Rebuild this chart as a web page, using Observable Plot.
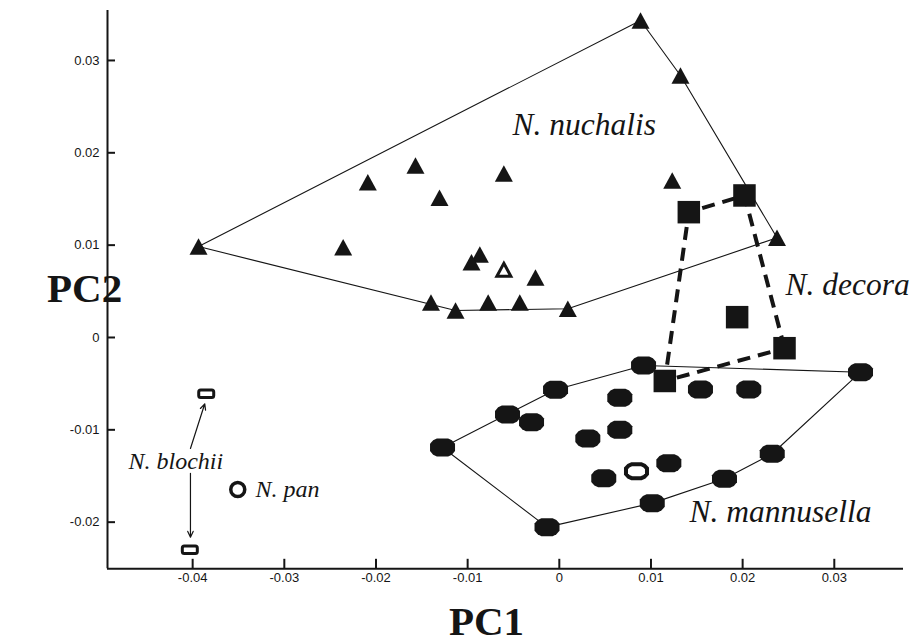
<!DOCTYPE html>
<html><head><meta charset="utf-8">
<script src="https://cdn.jsdelivr.net/npm/d3@7"></script>
<script src="https://cdn.jsdelivr.net/npm/@observablehq/plot@0.6"></script>
<style>body{margin:0;background:#fff;}</style>
</head><body><div id="chart"></div>
<script>
// ---- data (PC1, PC2) ----
const nuchalisX = [-0.03936, 0.00886, 0.01322, 0.02375, 0.00093, -0.01132, -0.0140, -0.02089, -0.01569, -0.01307, -0.00605, -0.02358, -0.00867, -0.00958, -0.0026, -0.00776, -0.00431, 0.01232];
const nuchalisY = [0.00985, 0.03433, 0.02837, 0.01080, 0.00311, 0.00292, 0.00379, 0.01682, 0.01863, 0.01513, 0.01776, 0.00978, 0.00899, 0.00815, 0.0065, 0.00379, 0.00379, 0.0170];
const nuchalisOpenX = [-0.00605];
const nuchalisOpenY = [0.00733];

const decoraX = [0.01413, 0.0202, 0.0194, 0.02457, 0.01151];
const decoraY = [0.01357, 0.01538, 0.0022, -0.00116, -0.00471];

const mannusellaX = [-0.01274, -0.00565, -0.00041, 0.00919, 0.03286, 0.02323, 0.01802, 0.01014, -0.00134, -0.00303, 0.0066, 0.0066, 0.00311, 0.00485, 0.01195, 0.0154, 0.02067];
const mannusellaY = [-0.01191, -0.00834, -0.00565, -0.00303, -0.00376, -0.01259, -0.0153, -0.01794, -0.02054, -0.00917, -0.00653, -0.0100, -0.01094, -0.01525, -0.01361, -0.00563, -0.00563];
const mannusellaOpenX = [0.00842];
const mannusellaOpenY = [-0.01448];

const blochiiX = [-0.03852, -0.04031];
const blochiiY = [-0.0061, -0.0230];
const panX = [-0.03508];
const panY = [-0.01646];

// species labels (left edge, baseline)
const bigLabels = ["N. nuchalis", "N. decora", "N. mannusella"];
const bigLabelX = [-0.0051, 0.02468, 0.01421];
const bigLabelY = [0.02188, 0.00455, -0.0200];
const smallLabels = ["N. blochii", "N. pan"];
const smallLabelX = [-0.0470, -0.03314];
const smallLabelY = [-0.01422, -0.0173];

// arrows from "N. blochii" to its two specimens
const arrowX1 = [-0.04024, -0.04024];
const arrowY1 = [-0.01202, -0.0147];
const arrowX2 = [-0.03868, -0.04024];
const arrowY2 = [-0.00718, -0.02163];

// axes
const xDomain = [-0.04929, 0.03755];
const yDomain = [-0.02505, 0.03541];
const xTicks = [-0.04, -0.03, -0.02, -0.01, 0, 0.01, 0.02, 0.03];
const yTicks = [-0.02, -0.01, 0, 0.01, 0.02, 0.03];
const xTitle = "PC1";
const yTitle = "PC2";

// ---- build tables ----
const pts = (X, Y) => X.map((x, i) => ({x, y: Y[i]}));
const nuchalis = pts(nuchalisX, nuchalisY);
const nuchalisOpen = pts(nuchalisOpenX, nuchalisOpenY);
const decora = pts(decoraX, decoraY);
const mannusella = pts(mannusellaX, mannusellaY);
const mannusellaOpen = pts(mannusellaOpenX, mannusellaOpenY);
const blochii = pts(blochiiX, blochiiY);
const pan = pts(panX, panY);
const bigLab = bigLabels.map((t, i) => ({t, x: bigLabelX[i], y: bigLabelY[i]}));
const smallLab = smallLabels.map((t, i) => ({t, x: smallLabelX[i], y: smallLabelY[i]}));
const arrows = arrowX1.map((x1, i) => ({x1, y1: arrowY1[i], x2: arrowX2[i], y2: arrowY2[i]}));

// ---- custom symbols ----
const tri = (b, h) => ({draw(c) { c.moveTo(0, -h / 2); c.lineTo(b / 2, h / 2); c.lineTo(-b / 2, h / 2); c.closePath(); }});
const sq = (s) => ({draw(c) { c.rect(-s / 2, -s / 2, s, s); }});
const oct = (hw, hh) => ({draw(c) {
  c.moveTo(-hw, -hh * 0.4); c.lineTo(-hw * 0.75, -hh * 0.8); c.lineTo(-hw * 0.45, -hh); c.lineTo(hw * 0.45, -hh);
  c.lineTo(hw * 0.75, -hh * 0.8); c.lineTo(hw, -hh * 0.4);
  c.lineTo(hw, hh * 0.4); c.lineTo(hw * 0.75, hh * 0.8); c.lineTo(hw * 0.45, hh); c.lineTo(-hw * 0.45, hh);
  c.lineTo(-hw * 0.75, hh * 0.8); c.lineTo(-hw, hh * 0.4); c.closePath();
}});
const roundRect = (w, h, r) => ({draw(c) {
  const x0 = -w / 2, y0 = -h / 2, x1 = w / 2, y1 = h / 2;
  c.moveTo(x0 + r, y0); c.arcTo(x1, y0, x1, y1, r); c.arcTo(x1, y1, x0, y1, r);
  c.arcTo(x0, y1, x0, y0, r); c.arcTo(x0, y0, x1, y0, r); c.closePath();
}});
const tickUp = (l) => ({draw(c) { c.moveTo(0, 0); c.lineTo(0, -l); }});
const tickRight = (l) => ({draw(c) { c.moveTo(0, 0); c.lineTo(l, 0); }});

const W = 917, H = 640, mL = 107, mR = 14, mT = 10, mB = 71.7;
const ink = "#151515";

const chart = Plot.plot({
  width: W, height: H,
  marginLeft: mL, marginRight: mR, marginTop: mT, marginBottom: mB,
  x: {domain: xDomain, axis: null},
  y: {domain: yDomain, axis: null},
  style: {background: "white", color: ink},
  marks: [
    // axis lines
    Plot.ruleY([yDomain[0]], {stroke: ink, strokeWidth: 2}),
    Plot.ruleX([xDomain[0]], {stroke: ink, strokeWidth: 2}),
    // inward ticks
    Plot.dot(xTicks, {x: d => d, frameAnchor: "bottom", symbol: tickUp(10), fill: "none", stroke: ink, strokeWidth: 2}),
    Plot.dot(yTicks, {y: d => d, frameAnchor: "left", symbol: tickRight(7.5), fill: "none", stroke: ink, strokeWidth: 2}),
    // tick labels
    Plot.text(xTicks, {x: d => d, text: d => String(d), frameAnchor: "bottom", dy: 13.5, fontSize: 13, fontFamily: "Liberation Sans", fill: ink}),
    Plot.text(yTicks, {y: d => d, text: d => String(d), frameAnchor: "left", dx: -8, textAnchor: "end", fontSize: 13, fontFamily: "Liberation Sans", fill: ink}),
    // axis titles
    Plot.text([yTitle], {text: d => d, frameAnchor: "left", dx: -60.5, dy: 12.7, lineAnchor: "bottom", fontSize: 41, fontWeight: "bold", fontFamily: "Liberation Serif", fill: ink}),
    Plot.text([xTitle], {text: d => d, frameAnchor: "bottom", dx: -19, dy: 66, lineAnchor: "bottom", fontSize: 41, fontWeight: "bold", fontFamily: "Liberation Serif", fill: ink}),
    // hulls
    Plot.hull(nuchalis, {x: "x", y: "y", stroke: ink, strokeWidth: 1.1}),
    Plot.hull(mannusella, {x: "x", y: "y", stroke: ink, strokeWidth: 1.1}),
    Plot.hull(decora, {x: "x", y: "y", stroke: ink, strokeWidth: 4, strokeDasharray: "13,8"}),
    // points
    Plot.dot(nuchalis, {x: "x", y: "y", symbol: tri(18, 16.5), fill: ink, stroke: "none"}),
    Plot.dot(nuchalisOpen, {x: "x", y: "y", symbol: tri(14, 13), fill: "white", stroke: ink, strokeWidth: 3}),
    Plot.dot(mannusella, {x: "x", y: "y", symbol: oct(12.5, 9), fill: ink, stroke: "none"}),
    Plot.dot(mannusellaOpen, {x: "x", y: "y", symbol: oct(10.5, 7), fill: "white", stroke: ink, strokeWidth: 4}),
    Plot.dot(decora, {x: "x", y: "y", symbol: sq(22.5), fill: ink, stroke: "none"}),
    Plot.dot(blochii, {x: "x", y: "y", symbol: roundRect(15, 7.5, 2), fill: "white", stroke: ink, strokeWidth: 3}),
    Plot.dot(pan, {x: "x", y: "y", r: 7, fill: "white", stroke: ink, strokeWidth: 3.5}),
    // arrows
    Plot.arrow(arrows, {x1: "x1", y1: "y1", x2: "x2", y2: "y2", stroke: ink, strokeWidth: 1.2, headLength: 8, headAngle: 50}),
    // species labels
    Plot.text(bigLab, {x: "x", y: "y", text: "t", textAnchor: "start", lineAnchor: "bottom", fontSize: 31.5, fontStyle: "italic", fontFamily: "Liberation Serif", fill: ink}),
    Plot.text(smallLab, {x: "x", y: "y", text: "t", textAnchor: "start", lineAnchor: "bottom", fontSize: 24, fontStyle: "italic", fontFamily: "Liberation Serif", fill: ink})
  ]
});
document.getElementById("chart").appendChild(chart);
</script>
</body></html>
